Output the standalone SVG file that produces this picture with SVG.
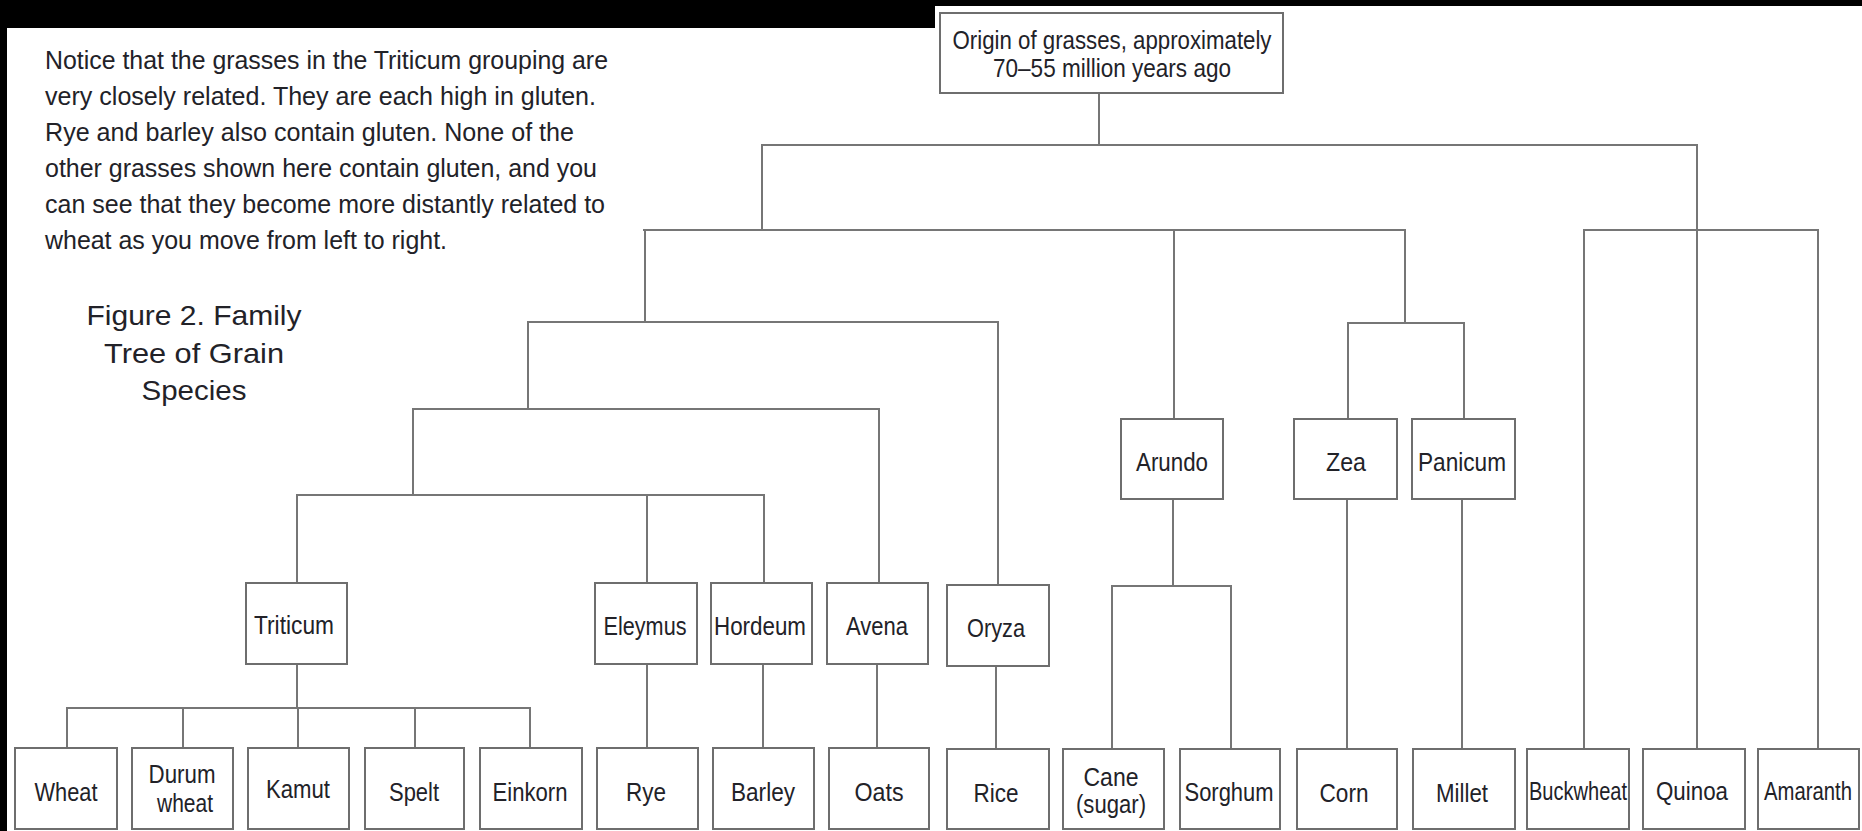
<svg xmlns="http://www.w3.org/2000/svg" width="1862" height="831" viewBox="0 0 1862 831">
<style>
.box{fill:#fff;stroke:#6e6e6e;stroke-width:2}
.ln{stroke:#767676;stroke-width:2;fill:none;stroke-linecap:square}
.t{font-family:"Liberation Sans Narrow","Liberation Sans",Arial,sans-serif;fill:#222228;text-anchor:middle}
.lf{font-size:26px}
.gn{font-size:25px}
.p{font-family:"Liberation Sans Narrow","Liberation Sans",Arial,sans-serif;fill:#222228;font-size:25px}
</style>
<rect x="0" y="0" width="1862" height="831" fill="#fff"/>
<rect x="0" y="0" width="1862" height="6" fill="#000"/>
<rect x="0" y="0" width="935" height="28" fill="#000"/>
<rect x="0" y="0" width="7" height="831" fill="#000"/>

<g id="caption-text">
<text class="p" x="45" y="69" textLength="563" lengthAdjust="spacingAndGlyphs">Notice that the grasses in the Triticum grouping are</text>
<text class="p" x="45" y="105" textLength="551" lengthAdjust="spacingAndGlyphs">very closely related. They are each high in gluten.</text>
<text class="p" x="45" y="141" textLength="529" lengthAdjust="spacingAndGlyphs">Rye and barley also contain gluten. None of the</text>
<text class="p" x="45" y="177" textLength="552" lengthAdjust="spacingAndGlyphs">other grasses shown here contain gluten, and you</text>
<text class="p" x="45" y="213" textLength="560" lengthAdjust="spacingAndGlyphs">can see that they become more distantly related to</text>
<text class="p" x="45" y="249" textLength="402" lengthAdjust="spacingAndGlyphs">wheat as you move from left to right.</text>
</g>
<g id="figure-title">
<text class="t" style="font-size:28px" x="194" y="325" textLength="215" lengthAdjust="spacingAndGlyphs">Figure 2. Family</text>
<text class="t" style="font-size:28px" x="194" y="363" textLength="180" lengthAdjust="spacingAndGlyphs">Tree of Grain</text>
<text class="t" style="font-size:28px" x="194" y="400" textLength="105" lengthAdjust="spacingAndGlyphs">Species</text>
</g>

<g id="connectors">
<path class="ln" d="M1099 93V145M762 145H1697M762 145V230M1697 145V749"/>
<path class="ln" d="M644 230H1405M1174 230V419M1405 230V323M1348 323H1464M1348 323V419M1464 323V419"/>
<path class="ln" d="M645 230V322M528 322H998M998 322V585M528 322V409M413 409H879M879 409V583M413 409V495"/>
<path class="ln" d="M297 495H764M297 495V583M647 495V583M764 495V583"/>
<path class="ln" d="M297 664V708M67 708H530M67 708V748M183 708V748M298 708V748M415 708V748M530 708V748"/>
<path class="ln" d="M647 664V748M763 664V748M877 664V748M996 666V749"/>
<path class="ln" d="M1173 499V586M1112 586H1231M1112 586V749M1231 586V749M1347 499V749M1462 499V749"/>
<path class="ln" d="M1584 230H1818M1584 230V749M1818 230V749"/>
</g>

<g id="n-origin"><rect class="box" x="940" y="13" width="343" height="80"/>
<text class="t" style="font-size:26px" x="1112" y="49" textLength="319" lengthAdjust="spacingAndGlyphs">Origin of grasses, approximately</text>
<text class="t" style="font-size:26px" x="1112" y="77" textLength="238" lengthAdjust="spacingAndGlyphs">70–55 million years ago</text></g>

<g id="n-triticum"><rect class="box" x="246" y="583" width="101" height="81"/><text class="t gn" x="294" y="634" textLength="80" lengthAdjust="spacingAndGlyphs">Triticum</text></g>
<g id="n-eleymus"><rect class="box" x="595" y="583" width="102" height="81"/><text class="t gn" x="645" y="635" textLength="83" lengthAdjust="spacingAndGlyphs">Eleymus</text></g>
<g id="n-hordeum"><rect class="box" x="711" y="583" width="101" height="81"/><text class="t gn" x="760" y="635" textLength="92" lengthAdjust="spacingAndGlyphs">Hordeum</text></g>
<g id="n-avena"><rect class="box" x="827" y="583" width="101" height="81"/><text class="t gn" x="877" y="635" textLength="62" lengthAdjust="spacingAndGlyphs">Avena</text></g>
<g id="n-oryza"><rect class="box" x="947" y="585" width="102" height="81"/><text class="t gn" x="996" y="637" textLength="58" lengthAdjust="spacingAndGlyphs">Oryza</text></g>
<g id="n-arundo"><rect class="box" x="1121" y="419" width="102" height="80"/><text class="t gn" x="1172" y="471" textLength="72" lengthAdjust="spacingAndGlyphs">Arundo</text></g>
<g id="n-zea"><rect class="box" x="1294" y="419" width="103" height="80"/><text class="t gn" x="1346" y="471" textLength="40" lengthAdjust="spacingAndGlyphs">Zea</text></g>
<g id="n-panicum"><rect class="box" x="1412" y="419" width="103" height="80"/><text class="t gn" x="1462" y="471" textLength="88" lengthAdjust="spacingAndGlyphs">Panicum</text></g>

<g id="n-wheat"><rect class="box" x="15" y="748" width="102" height="81"/><text class="t lf" x="66" y="801" textLength="63" lengthAdjust="spacingAndGlyphs">Wheat</text></g>
<g id="n-durum"><rect class="box" x="132" y="748" width="101" height="81"/><text class="t lf" x="182" y="783" textLength="67" lengthAdjust="spacingAndGlyphs">Durum</text><text class="t lf" x="185" y="812" textLength="56" lengthAdjust="spacingAndGlyphs">wheat</text></g>
<g id="n-kamut"><rect class="box" x="248" y="748" width="101" height="81"/><text class="t lf" x="298" y="798" textLength="64" lengthAdjust="spacingAndGlyphs">Kamut</text></g>
<g id="n-spelt"><rect class="box" x="365" y="748" width="99" height="81"/><text class="t lf" x="414" y="801" textLength="50" lengthAdjust="spacingAndGlyphs">Spelt</text></g>
<g id="n-einkorn"><rect class="box" x="480" y="748" width="102" height="81"/><text class="t lf" x="530" y="801" textLength="75" lengthAdjust="spacingAndGlyphs">Einkorn</text></g>
<g id="n-rye"><rect class="box" x="597" y="748" width="101" height="81"/><text class="t lf" x="646" y="801" textLength="40" lengthAdjust="spacingAndGlyphs">Rye</text></g>
<g id="n-barley"><rect class="box" x="713" y="748" width="101" height="81"/><text class="t lf" x="763" y="801" textLength="64" lengthAdjust="spacingAndGlyphs">Barley</text></g>
<g id="n-oats"><rect class="box" x="829" y="748" width="100" height="81"/><text class="t lf" x="879" y="801" textLength="49" lengthAdjust="spacingAndGlyphs">Oats</text></g>
<g id="n-rice"><rect class="box" x="947" y="749" width="102" height="80"/><text class="t lf" x="996" y="802" textLength="45" lengthAdjust="spacingAndGlyphs">Rice</text></g>
<g id="n-cane"><rect class="box" x="1063" y="749" width="101" height="80"/><text class="t lf" x="1111" y="786" textLength="55" lengthAdjust="spacingAndGlyphs">Cane</text><text class="t lf" x="1111" y="813" textLength="70" lengthAdjust="spacingAndGlyphs">(sugar)</text></g>
<g id="n-sorghum"><rect class="box" x="1180" y="749" width="100" height="80"/><text class="t lf" x="1229" y="801" textLength="89" lengthAdjust="spacingAndGlyphs">Sorghum</text></g>
<g id="n-corn"><rect class="box" x="1297" y="749" width="100" height="80"/><text class="t lf" x="1344" y="802" textLength="49" lengthAdjust="spacingAndGlyphs">Corn</text></g>
<g id="n-millet"><rect class="box" x="1413" y="749" width="102" height="80"/><text class="t lf" x="1462" y="802" textLength="52" lengthAdjust="spacingAndGlyphs">Millet</text></g>
<g id="n-buckwheat"><rect class="box" x="1527" y="749" width="102" height="80"/><text class="t lf" x="1578" y="800" textLength="98" lengthAdjust="spacingAndGlyphs">Buckwheat</text></g>
<g id="n-quinoa"><rect class="box" x="1643" y="749" width="102" height="80"/><text class="t lf" x="1692" y="800" textLength="72" lengthAdjust="spacingAndGlyphs">Quinoa</text></g>
<g id="n-amaranth"><rect class="box" x="1758" y="749" width="101" height="80"/><text class="t lf" x="1808" y="800" textLength="88" lengthAdjust="spacingAndGlyphs">Amaranth</text></g>
</svg>
